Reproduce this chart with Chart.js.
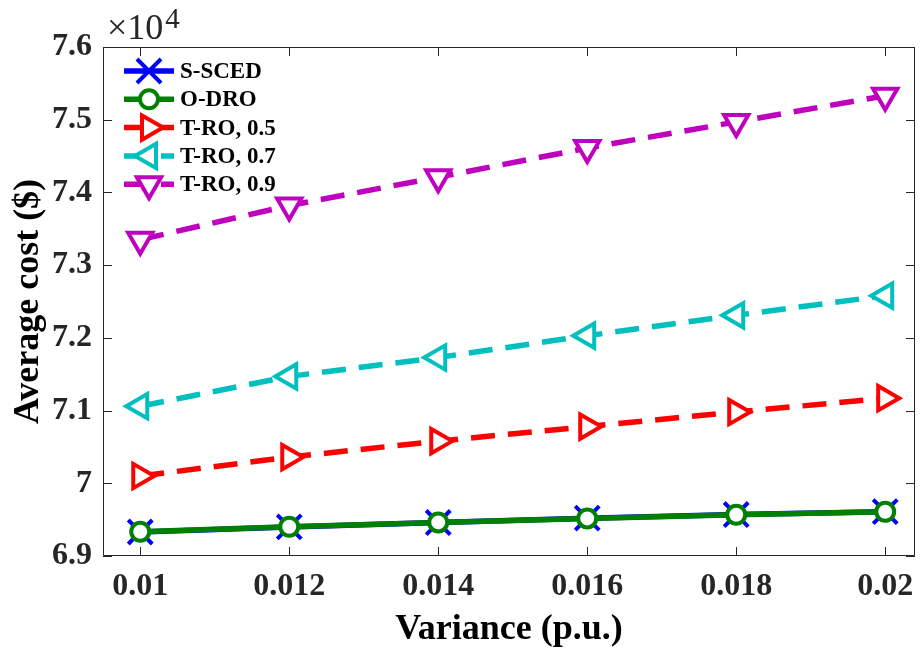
<!DOCTYPE html>
<html><head><meta charset="utf-8">
<script src="https://cdn.jsdelivr.net/npm/chart.js@4/dist/chart.umd.min.js"></script>
<style>html,body{margin:0;padding:0;background:#fff;} #wrap{width:921px;height:653px;position:relative;}</style>
</head><body><div id="wrap"><canvas id="c" width="921" height="653"></canvas></div>
<script>
// ---- data (values in units of 10^4 $) ----
const variance = [0.01, 0.012, 0.014, 0.016, 0.018, 0.02];
const sSced  = [6.933, 6.940, 6.946, 6.952, 6.957, 6.961];
const oDro   = [6.9333, 6.9402, 6.9462, 6.9517, 6.9567, 6.9608];
const tro05  = [7.010, 7.036, 7.058, 7.078, 7.098, 7.117];
const tro07  = [7.106, 7.147, 7.173, 7.203, 7.231, 7.258];
const tro09  = [7.335, 7.382, 7.421, 7.461, 7.497, 7.533];
const seriesNames = ['S-SCED', 'O-DRO', 'T-RO, 0.5', 'T-RO, 0.7', 'T-RO, 0.9'];
const xTicks = [0.01, 0.012, 0.014, 0.016, 0.018, 0.02];
const xTickLabels = ['0.01', '0.012', '0.014', '0.016', '0.018', '0.02'];
const yTicks = [6.9, 7.0, 7.1, 7.2, 7.3, 7.4, 7.5, 7.6];
const yTickLabels = ['6.9', '7', '7.1', '7.2', '7.3', '7.4', '7.5', '7.6'];
const yExpBase = '\u00d710';
const yExp = '4';
const xTitle = 'Variance (p.u.)';
const yTitle = 'Average cost ($)';

const SERIF = '"Liberation Serif", "Times New Roman", serif';
const pts = arr => arr.map((v, i) => ({x: variance[i], y: v}));

function ds(label, data, color, style, rot, radius, dashed, order) {
  return {
    label, data: pts(data), order,
    borderColor: color, backgroundColor: color,
    borderWidth: 5.5, borderDash: dashed ? [24, 13] : [],
    pointStyle: style, pointRotation: rot, pointRadius: radius,
    pointBorderWidth: 4, pointBorderColor: color, pointBackgroundColor: '#ffffff',
    pointHoverRadius: radius, tension: 0, fill: false, clip: false
  };
}

const datasets = [
  ds(seriesNames[0], sSced, '#0000ff', 'crossRot', 0, 17, false, 5),
  ds(seriesNames[1], oDro,  '#008000', 'circle',   0, 9,  false, 4),
  ds(seriesNames[2], tro05, '#ff0000', 'triangle', 90, 14, true, 3),
  ds(seriesNames[3], tro07, '#00bfbf', 'triangle', -90, 14, true, 2),
  ds(seriesNames[4], tro09, '#bf00bf', 'triangle', 180, 14, true, 1)
];

const matlabLook = {
  id: 'matlabLook',
  afterDraw(chart) {
    const {ctx, chartArea: a, scales: {x, y}} = chart;
    ctx.save();
    // frame
    ctx.strokeStyle = '#262626';
    ctx.lineWidth = 1;
    ctx.setLineDash([]);
    ctx.beginPath();
    ctx.rect(a.left + 0.5, a.top + 0.5, a.right - a.left - 1, a.bottom - a.top - 1);
    ctx.stroke();
    // inward ticks on all four sides
    const tl = 9;
    ctx.beginPath();
    x.ticks.forEach(t => {
      const px = Math.round(x.getPixelForValue(t.value)) + 0.5;
      ctx.moveTo(px, a.bottom); ctx.lineTo(px, a.bottom - tl);
      ctx.moveTo(px, a.top); ctx.lineTo(px, a.top + tl);
    });
    y.ticks.forEach(t => {
      const py = Math.round(y.getPixelForValue(t.value)) + 0.5;
      ctx.moveTo(a.left, py); ctx.lineTo(a.left + tl, py);
      ctx.moveTo(a.right, py); ctx.lineTo(a.right - tl, py);
    });
    ctx.stroke();
    // exponent label
    ctx.fillStyle = '#262626';
    ctx.textBaseline = 'alphabetic';
    ctx.textAlign = 'left';
    ctx.font = '36px ' + SERIF;
    ctx.fillText(yExpBase, a.left + 4, a.top - 8);
    const w = ctx.measureText(yExpBase).width;
    ctx.font = '29px ' + SERIF;
    ctx.fillText(yExp, a.left + 4 + w + 2, a.top - 19);
    // legend (MATLAB-style, inside top-left, no box)
    const lx0 = a.left + 21, lx1 = a.left + 71, tx = a.left + 77;
    chart.data.datasets.forEach((d, i) => {
      const ly = a.top + 24 + i * 28.3;
      ctx.strokeStyle = d.borderColor;
      ctx.lineWidth = d.borderWidth;
      ctx.setLineDash(d.borderDash);
      ctx.lineDashOffset = 0;
      ctx.beginPath();
      ctx.moveTo(lx0, ly); ctx.lineTo(lx1, ly);
      ctx.stroke();
      ctx.setLineDash([]);
      ctx.lineWidth = d.pointBorderWidth;
      ctx.strokeStyle = d.pointBorderColor;
      ctx.fillStyle = d.pointBackgroundColor;
      Chart.helpers.drawPoint(ctx, {
        pointStyle: d.pointStyle, rotation: d.pointRotation,
        radius: d.pointRadius, borderWidth: d.pointBorderWidth
      }, (lx0 + lx1) / 2, ly);
      ctx.fillStyle = '#000000';
      ctx.font = 'bold 23px ' + SERIF;
      ctx.textBaseline = 'middle';
      ctx.textAlign = 'left';
      ctx.fillText(d.label, tx, ly + 1);
    });
    ctx.restore();
  }
};

new Chart(document.getElementById('c'), {
  type: 'line',
  data: {datasets},
  options: {
    responsive: false, animation: false, devicePixelRatio: 1,
    layout: {autoPadding: false, padding: {top: 47, right: 6, left: 0, bottom: 0}},
    plugins: {legend: {display: false}, tooltip: {enabled: false}},
    scales: {
      x: {
        type: 'linear', min: 0.0095, max: 0.0204,
        afterBuildTicks: s => { s.ticks = xTicks.map(v => ({value: v})); },
        afterFit: s => { s.height = 97; s.paddingLeft = 0; s.paddingRight = 0; },
        grid: {display: false, drawTicks: false},
        border: {display: false},
        ticks: {
          padding: 12, color: '#262626', maxRotation: 0,
          font: {family: SERIF, size: 32, weight: 'bold'},
          callback: (v) => { const i = xTicks.findIndex(t => Math.abs(t - v) < 1e-9); return i >= 0 ? xTickLabels[i] : ''; }
        },
        title: {display: true, text: xTitle, color: '#000000', padding: {top: 0, bottom: 2},
          font: {family: SERIF, size: 36, weight: 'bold'}}
      },
      y: {
        type: 'linear', min: 6.9, max: 7.6,
        afterBuildTicks: s => { s.ticks = yTicks.map(v => ({value: v})); },
        afterFit: s => { s.width = 103; s.paddingTop = 0; s.paddingBottom = 0; },
        grid: {display: false, drawTicks: false},
        border: {display: false},
        ticks: {
          padding: 11, color: '#262626',
          font: {family: SERIF, size: 32, weight: 'bold'},
          callback: (v) => { const i = yTicks.findIndex(t => Math.abs(t - v) < 1e-9); return i >= 0 ? yTickLabels[i] : ''; }
        },
        title: {display: true, text: yTitle, color: '#000000', padding: {top: 7, bottom: 0},
          font: {family: SERIF, size: 36, weight: 'bold'}}
      }
    }
  },
  plugins: [matlabLook]
});
</script>
</body></html>
